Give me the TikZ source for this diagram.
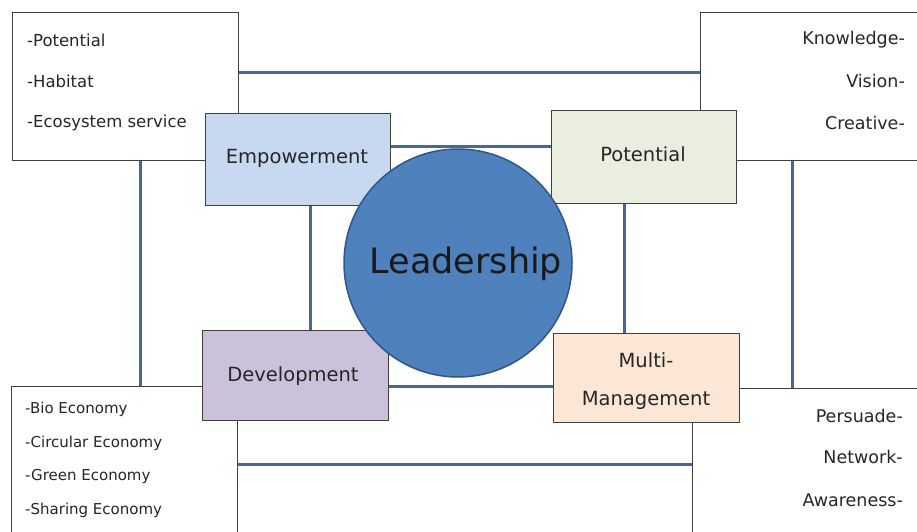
\documentclass[tikz,border=0pt]{standalone}
\usepackage{fontspec}
\setmainfont{DejaVu Sans}
\definecolor{linkblue}{HTML}{46679A}
\definecolor{circfill}{HTML}{4F81BD}
\definecolor{circdraw}{HTML}{2F5689}
\definecolor{empfill}{HTML}{C6D9F0}
\definecolor{potfill}{HTML}{EAEEDF}
\definecolor{devfill}{HTML}{CCC1DA}
\definecolor{mulfill}{HTML}{FCE6D6}
\definecolor{boxdraw}{HTML}{404040}
\tikzset{
  outerbox/.style={draw=boxdraw, line width=1pt, fill=white, inner sep=0pt, anchor=north west},
  innerbox/.style={draw=boxdraw, line width=1.2pt, inner sep=0pt, anchor=north west},
  link/.style={draw=linkblue, line width=3pt},
  sidetext/.style={font=\fontsize{16.5}{18}\selectfont, inner sep=0pt, text=black!85},
  righttext/.style={font=\fontsize{17.5}{18}\selectfont, inner sep=0pt, text=black!85},
  smalltext/.style={font=\fontsize{15}{16}\selectfont, inner sep=0pt, text=black!85},
  boxtext/.style={font=\fontsize{19.5}{20}\selectfont, inner sep=0pt, text=black!85},
}
\begin{document}
\begin{tikzpicture}[x=1pt,y=-1pt]
\useasboundingbox (0,0) rectangle (917,532);
% outer boxes
\node[outerbox, minimum width=226pt, minimum height=148pt] (tl) at (12,12) {};
\node[outerbox, minimum width=230pt, minimum height=148pt] (tr) at (700,12) {};
\node[outerbox, minimum width=226pt, minimum height=174pt] (bl) at (11,386) {};
\node[outerbox, minimum width=238pt, minimum height=172pt] (br) at (692,388) {};
% outer links
\draw[link] ([yshift=14pt]tl.east) -- ([yshift=14pt]tl.east -| tr.west);
\draw[link] ([xshift=15pt]tl.south) -- ([xshift=15pt]tl.south |- bl.north);
\draw[link] ([xshift=92pt]tr.south west) -- ([xshift=92pt]tr.south west |- br.north);
\draw[link] ([yshift=9pt]bl.east) -- ([yshift=9pt]bl.east -| br.west);
% outer texts
\node[sidetext, anchor=west] (t1) at (27,40) {-Potential};
\node[sidetext, anchor=west] (t2) at (27,81) {-Habitat};
\node[sidetext, anchor=west] (t3) at (27,123) {-Ecosystem service};
\node[righttext, anchor=east] (r1) at (905,40) {Knowledge-};
\node[righttext, anchor=east] (r2) at (905,81) {Vision-};
\node[righttext, anchor=east] (r3) at (905,123) {Creative-};
\node[smalltext, anchor=west] (b1) at (25,409) {-Bio Economy};
\node[smalltext, anchor=west] (b2) at (25,443) {-Circular Economy};
\node[smalltext, anchor=west] (b3) at (25,476) {-Green Economy};
\node[smalltext, anchor=west] (b4) at (25,510) {-Sharing Economy};
\node[righttext, anchor=east] (s1) at (903,416) {Persuade-};
\node[righttext, anchor=east] (s2) at (903,457) {Network-};
\node[righttext, anchor=east] (s3) at (903,500) {Awareness-};
% inner boxes
\node[innerbox, fill=empfill, minimum width=185pt, minimum height=92pt] (emp) at (205,113) {};
\node[innerbox, fill=potfill, minimum width=185pt, minimum height=93pt] (pot) at (551,110) {};
\node[innerbox, fill=devfill, minimum width=186pt, minimum height=90pt] (dev) at (202,330) {};
\node[innerbox, fill=mulfill, minimum width=186pt, minimum height=89pt] (mul) at (553,333) {};
% inner links
\draw[link] ([yshift=13pt]emp.east) -- ([yshift=13pt]emp.east -| pot.west);
\draw[link] ([xshift=12.5pt]emp.south) -- ([xshift=12.5pt]emp.south |- dev.north);
\draw[link] ([xshift=-19.5pt]pot.south) -- ([xshift=-19.5pt]pot.south |- mul.north);
\draw[link] ([yshift=-11pt]dev.east) -- ([yshift=-11pt]dev.east -| mul.west);
% inner box texts
\node[boxtext] (empt) at (297,158) {Empowerment};
\node[boxtext] (pott) at (643,154) {Potential};
\node[boxtext] (devt) at (293,376) {Development};
\node[boxtext] (mult1) at (646,360) {Multi-};
\node[boxtext] (mult2) at (646,400) {Management};
% circle
\node[circle, draw=circdraw, line width=1.5pt, fill=circfill, minimum size=228pt, inner sep=0pt] (lead) at (458,263) {};
\node[font=\fontsize{35}{40}\selectfont, text=black!90, inner sep=0pt] (leadt) at (466,264) {Leadership};
\end{tikzpicture}
\end{document}
